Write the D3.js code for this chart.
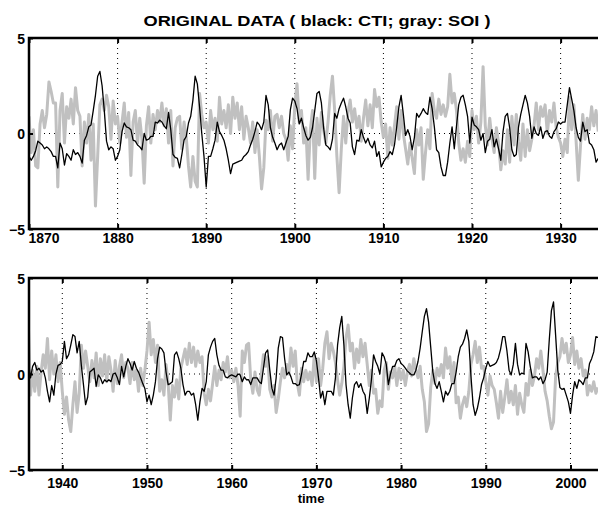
<!DOCTYPE html>
<html>
<head>
<meta charset="utf-8">
<script src="https://cdn.jsdelivr.net/npm/d3@7"></script>
<style>
  body { margin: 0; background: #fff; }
  text { font-family: "Liberation Sans", Arial, Helvetica, sans-serif; font-weight: bold; fill: #000; }
</style>
</head>
<body>
<div id="chart"></div>
<script>
// quarterly samples (step 0.25 yr)
var step = 0.25;

// top panel, starts 1870.0
var topStart = 1870;
var ctiTop = [
  -1.2,-1.4,-1.2,-0.9, -0.4,-0.5,-0.6,-0.8, -0.7,-0.8,-0.95,-1.2, -1.2,-1.8,-0.5,-0.8, -1.65,-1.05,-1.2,-1.4,
  -0.85,-1.1,-1.0,-1.2, -1.55,-0.35,-0.1,0.35, 0.45,1.2,2.0,3.0, 3.25,2.5,1.2,-0.4, -0.85,-0.7,-0.8,-1.4,
  -1.2,-0.85,0.1,0.55, 0.35,0.3,0.2,-0.35, -0.4,-0.6,-0.7,-0.85, 0.0,-0.35,-0.3,-0.15, -0.15,0.6,0.55,0.7,
  0.6,0.4,0.25,1.1, 0.2,-1.1,-1.25,-1.3, -1.8,-1.1,-0.35,-0.15, 0.55,0.9,1.75,3.0, 2.6,1.4,0.0,-1.2,
  -2.8,-1.2,-1.2,-0.8, -0.35,0.6,0.1,-0.1, -0.35,-0.8,-1.4,-2.1, -1.6,-1.55,-1.5,-1.45, -1.4,-1.2,-1.1,-0.95,
  -0.6,-0.3,0.1,0.6, 0.45,0.2,0.6,2.0, 1.5,0.3,-0.2,-0.5, -0.85,-0.6,-0.5,-0.85, -0.5,-0.15,1.25,1.85,
  1.7,1.3,0.5,0.8, 0.3,-0.1,-0.35,-0.2, 0.3,1.2,2.1,2.2, 1.6,0.3,-0.6,-0.7, -0.85,-0.3,1.05,0.8,
  1.3,1.6,1.85,1.4, 0.8,0.55,-0.7,-1.1, -0.35,-0.4,0.2,-0.2, -0.5,-0.25,-0.6,-0.75, -0.4,-1.2,-0.95,-1.75,
  -1.5,-1.3,-1.2,-0.95, -1.1,-0.6,0.35,1.4, 2.0,1.0,-0.1,0.2, -0.15,-0.85,-0.2,1.05, 0.85,1.05,1.3,1.1,
  1.0,1.9,1.3,0.35, -0.85,-1.0,-1.75,-2.2, -2.2,-1.5,-0.5,0.35, -0.8,0.4,1.5,1.9, 2.0,1.5,0.9,-0.5,
  0.85,0.45,0.35,0.2, -0.35,0.0,-1.0,-0.4, -0.3,0.2,-0.7,-0.3, -0.8,-1.4,0.1,0.9, 1.05,0.3,-0.85,-1.2,
  -1.1,0.35,1.0,1.5, 2.0,1.6,0.9,-0.25, 0.35,0.0,-0.1,0.35, -0.25,0.1,0.15,-0.15, -0.25,0.1,0.25,0.6,
  0.5,0.6,0.6,1.5, 2.4,1.8,1.2,0.3, -0.2,-0.4,0.6,0.1, 0.2,-0.5,-0.6,-0.85, -1.5,-1.3
];
var soiTop = [
  0.9,-1.0,0.2,-1.7, -1.8,0.5,1.2,0.3, 1.0,2.7,2.2,1.6, 1.6,-2.8,1.2,2.1, -0.5,1.4,0.8,1.8,
  0.5,2.4,1.2,0.9, -1.7,0.6,-0.5,1.0, -1.4,0.5,-3.8,-1.2, 1.5,1.8,1.2,2.0, 1.4,-0.3,1.7,0.5,
  0.9,-0.5,0.6,1.6, -0.2,1.1,-2.2,0.6, 1.2,-0.5,0.8,-0.3, -2.6,0.4,1.4,-0.5, 1.0,0.2,1.2,0.6,
  1.6,0.4,1.3,-0.5, 1.2,-1.7,0.3,0.8, 0.9,-0.8,0.6,-0.2, -1.7,-2.8,-1.2,-2.5, -2.8,2.1,1.0,0.3,
  0.6,-0.5,1.2,0.2, 0.8,-0.4,1.9,0.5, 1.2,0.3,1.5,0.0, 1.9,0.8,1.6,0.2, 1.4,-0.3,0.9,0.3,
  -0.5,0.6,-1.0,0.2, -1.2,-2.9,-1.8,0.7, 0.2,1.2,-0.4,0.9, 1.0,0.3,0.9,0.0, -0.3,-1.4,0.4,-0.8,
  1.5,2.6,0.6,1.2, -0.5,0.3,-2.4,0.2, 1.2,-2.35,0.8,-0.6, 1.1,0.2,-0.5,0.6, 2.0,3.0,1.2,-1.2,
  -3.1,-0.8,0.9,-0.5, 1.1,1.75,0.6,1.3, 0.3,0.9,-0.4,0.8, 1.75,0.4,1.5,0.3, 2.3,1.4,1.9,0.6,
  -0.2,0.5,-1.3,0.3, -0.6,0.4,1.4,-0.3, 1.2,0.0,-0.8,-1.6, -0.5,-1.3,-2.1,0.2, -0.6,0.3,-2.4,-1.0,
  0.2,-0.8,2.1,1.2, 0.8,1.8,1.0,1.5, 0.9,1.4,3.1,1.6, 2.1,1.2,-0.5,-1.4, -0.8,-1.5,-0.4,-1.2,
  1.2,0.2,0.9,-0.5, 0.6,3.5,0.4,-0.6, 0.8,-0.3,-1.0,0.3, -0.5,-1.9,-0.9,-1.6, 0.2,-1.5,0.9,-0.6,
  1.0,-0.4,-1.4,0.5, -1.2,0.2,-0.9,-0.3, 0.4,1.6,0.2,1.4, 0.9,1.5,0.0,1.2, 0.6,1.6,0.3,-0.2,
  -0.5,-1.2,-0.3,-1.0, 1.9,0.2,1.5,-0.4, -2.45,-0.6,1.0,-0.3, 0.8,0.2,1.4,0.4, 1.2,0.1
];

// bottom panel, starts 1936.0
var bottomStart = 1936;
var ctiBottom = [
  0.65,-0.2,0.4,0.6, 0.2,0.3,0.1,0.2, -0.2,-0.9,-1.45,-0.6, -1.1,0.0,0.45,0.5,
  0.65,1.7,0.8,1.0, 1.5,2.05,1.95,1.1, 1.7,0.45,-0.55,-1.6, -1.2,0.1,0.2,0.3, -0.65,-0.05,-0.2,-0.5,
  -0.3,-0.4,-0.3,-0.4, 0.0,0.05,-0.2,-0.55, 0.4,-0.15,0.4,0.8, 0.55,0.2,0.65,0.3, 0.1,-0.2,-0.5,-0.75,
  -1.45,-1.1,-1.6,-1.1, -0.4,0.8,1.4,1.3, 1.1,0.1,-0.55,-0.5, -0.4,1.0,1.15,0.8, 0.3,-0.55,-1.1,-0.9,
  -0.9,-1.1,-1.0,-1.6, -2.4,-1.45,-0.75,-0.9, -0.4,1.0,1.4,1.7, 1.85,1.0,0.45,0.2, 0.2,-0.15,-0.2,-0.1,
  -0.05,-0.1,-0.15,0.0, -0.05,-0.4,-0.15,-0.3, -0.3,-0.55,-0.2,-0.2, -0.2,-0.4,-0.5,0.3, 1.1,1.25,0.2,-0.75,
  -1.1,-0.2,1.35,1.95, 1.9,0.8,-0.05,0.1, -0.15,-0.5,-0.5,-0.6, -0.55,0.0,0.65,0.65, 1.1,0.9,0.9,1.15,
  0.7,-0.2,-1.25,-0.9, -1.6,-0.9,-0.9,-0.9, -1.1,-0.2,1.5,2.4, 3.0,1.5,-0.55,-1.6, -2.3,-1.25,-0.55,-0.4,
  -0.7,-0.5,-0.9,-1.1, -2.05,-1.25,-0.3,1.0, 0.65,0.4,0.0,1.1, 0.9,0.5,-0.55,0.0, 0.4,0.4,0.7,0.8,
  0.55,0.45,0.3,0.15, 0.05,-0.05,-0.05,0.2, 0.65,1.35,2.2,3.0, 3.4,2.7,1.4,0.1, -0.5,-0.75,-0.4,-0.9,
  -1.45,-0.9,-1.1,-0.9, -0.5,-0.5,0.1,0.9, 1.4,1.55,1.85,2.3, 1.7,-0.1,-1.6,-2.15, -1.8,-1.25,-0.55,-0.2,
  0.3,0.65,0.4,0.45, 0.5,0.6,0.85,1.3, 1.95,1.95,1.2,0.2, -0.05,0.5,1.6,0.5, -0.05,0.05,0.0,1.6,
  1.15,0.4,-0.2,-0.15, -0.15,-0.3,-0.15,-0.5, -0.3,0.1,1.8,3.3, 3.75,2.0,0.2,-0.7, -0.8,-0.75,-1.1,-1.45,
  -2.05,-1.1,-0.4,-0.75, -0.3,-0.4,-0.55,-0.2, -0.2,0.55,0.8,1.15, 1.95,1.9
];
var soiBottom = [
  2.45,-1.1,0.2,-0.9, 0.4,-1.1,0.1,1.0, 0.3,1.85,-0.3,1.2, 0.0,1.0,-0.4,0.6,
  -0.9,-2.1,-1.2,-2.4, -3.0,-1.6,-0.4,-2.0, -1.0,1.5,0.3,1.2, 0.4,-0.4,0.7,-0.2, 1.1,-0.6,0.8,-0.1,
  1.0,-0.4,0.9,0.2, -0.9,0.7,-0.5,0.4, 1.0,-0.2,0.6,0.3, -0.5,0.6,-0.3,0.2, -0.9,0.3,-0.6,0.2,
  1.2,2.7,1.0,1.8, 0.6,1.5,-0.9,-0.3, -1.1,0.5,-0.5,-2.4, -0.6,-1.2,-0.3,-1.3, 0.3,0.8,1.3,0.5,
  1.6,0.6,1.4,0.4, 1.2,0.6,0.9,-1.0, -1.6,-0.8,-1.4,-0.5, 0.4,-0.6,0.2,-0.3, 0.6,0.1,0.9,-0.2,
  0.2,-0.4,0.3,-0.6, -2.2,1.2,0.6,1.5, 1.6,-0.3,-1.0,0.1, -0.8,-1.1,0.0,1.0, 0.4,0.9,-0.8,-1.2,
  -0.6,-2.0,-1.3,-0.4, 0.3,-0.2,0.5,0.0, 1.35,0.4,1.2,-0.5, -1.1,0.3,-0.4,0.2, -0.3,0.1,-0.6,1.0,
  -0.4,0.8,-0.6,0.3, 1.6,2.2,0.8,1.6, 1.2,0.6,-0.3,-1.1, -0.5,0.4,1.9,2.55, 1.2,1.6,0.3,1.3,
  0.6,1.8,0.9,1.6, 0.5,-0.6,0.2,-1.0, -0.8,-2.05,-1.4,-1.7, 0.2,0.6,-0.8,0.1, -0.2,0.4,-0.6,0.3,
  -0.3,0.2,-0.6,0.1, 0.5,-0.1,0.8,0.2, -0.2,0.4,-0.8,-1.45, -3.0,-2.6,-0.7,0.2, -0.5,0.3,-0.1,0.5,
  -0.2,1.35,0.3,0.9, -0.4,0.6,-1.5,-1.2, -2.3,-1.6,-1.2,-1.7, -0.9,0.5,1.0,1.7, 0.6,1.4,0.3,0.4,
  -0.4,-1.1,-0.1,-0.6, -0.8,-1.5,-2.3,-0.9, -2.0,-1.2,-0.3,-1.5, -0.9,-1.6,-0.6,-2.1, -1.0,-1.6,-2.0,-0.5,
  -1.1,0.2,-0.6,-0.1, 0.8,0.3,1.2,0.2, -0.9,-1.4,-2.2,-2.85, -2.5,-0.1,0.6,0.9, 1.85,1.1,1.6,0.6,
  1.0,1.9,0.5,1.2, 0.3,0.8,-0.1,0.2, -1.1,-0.6,-0.9,-0.4, -1.0,-0.7
];

var topTicks = [1870, 1880, 1890, 1900, 1910, 1920, 1930];
var bottomTicks = [1940, 1950, 1960, 1970, 1980, 1990, 2000];
var yTicks = [-5, 0, 5];

var svgWidth = 598, svgHeight = 505;

var svg = d3.select("#chart").append("svg")
  .attr("width", svgWidth)
  .attr("height", svgHeight);

function toPoints(start, values) {
  return values.map(function(v, i) { return { t: start + i * step, v: v }; });
}

function drawPanel(p, idx) {
  var x = d3.scaleLinear().domain(p.xDomain).range([29, 598]);
  var y = d3.scaleLinear().domain([-5, 5]).range([p.bottom, p.top]);

  var g = svg.append("g");

  g.append("clipPath").attr("id", "clip" + idx)
    .append("rect")
    .attr("x", 29).attr("y", p.top)
    .attr("width", 598 - 29).attr("height", p.bottom - p.top);

  // dotted grid
  g.selectAll(".vgrid").data(p.ticks).enter().append("line")
    .attr("x1", d => x(d)).attr("x2", d => x(d))
    .attr("y1", p.top).attr("y2", p.bottom)
    .attr("stroke", "#000").attr("stroke-width", 1)
    .attr("stroke-dasharray", "1,4");
  g.append("line")
    .attr("x1", 29).attr("x2", 598)
    .attr("y1", y(0)).attr("y2", y(0))
    .attr("stroke", "#000").attr("stroke-width", 1)
    .attr("stroke-dasharray", "1,4");

  var line = d3.line().x(d => x(d.t)).y(d => y(d.v));

  var plot = g.append("g").attr("clip-path", "url(#clip" + idx + ")");
  plot.append("path")
    .datum(toPoints(p.start, p.soi))
    .attr("d", line)
    .attr("fill", "none")
    .attr("stroke", "#c0c0c0")
    .attr("stroke-width", 3)
    .attr("stroke-linejoin", "round");
  plot.append("path")
    .datum(toPoints(p.start, p.cti))
    .attr("d", line)
    .attr("fill", "none")
    .attr("stroke", "#000")
    .attr("stroke-width", 1.3)
    .attr("stroke-linejoin", "round");

  // axes
  var bottomAxis = d3.axisBottom(x).tickValues(p.ticks).tickSize(-5).tickFormat(d3.format("d"));
  var topAxis = d3.axisTop(x).tickValues(p.ticks).tickSize(-5).tickFormat("");
  var leftAxis = d3.axisLeft(y).tickValues(yTicks).tickSize(-4)
    .tickFormat(d => d < 0 ? "\u2212" + Math.abs(d) : d);

  var xb = g.append("g").attr("transform", `translate(0, ${p.bottom})`).call(bottomAxis);
  var xt = g.append("g").attr("transform", `translate(0, ${p.top})`).call(topAxis);
  var yl = g.append("g").attr("transform", "translate(29, 0)").call(leftAxis);

  [xb, xt, yl].forEach(function(a) {
    a.select(".domain").remove();
    a.selectAll(".tick line").attr("stroke", "#000").attr("stroke-width", 2);
  });
  xb.selectAll("text")
    .attr("y", p.labelGap).attr("dy", "0.71em")
    .style("font-size", "14px").attr("fill", "#000");
  // the first label of the top panel sits to the right of its tick
  if (p.shiftFirst) {
    xb.selectAll("text").filter(d => d === p.ticks[0])
      .attr("text-anchor", "start").attr("x", -1);
  }
  yl.selectAll("text")
    .attr("x", -4).attr("dy", "0.36em")
    .style("font-size", "14px").attr("fill", "#000");

  // box (left, top, bottom; right side runs off the page)
  g.append("path")
    .attr("d", `M598,${p.top}H29V${p.bottom}H598`)
    .attr("fill", "none")
    .attr("stroke", "#000")
    .attr("stroke-width", 2.5);
}

var panels = [
  { start: topStart, cti: ctiTop, soi: soiTop, xDomain: [1870, 1934.22],
    top: 38, bottom: 229, ticks: topTicks, labelGap: 4, shiftFirst: true },
  { start: bottomStart, cti: ctiBottom, soi: soiBottom, xDomain: [1936.07, 2003.25],
    top: 278, bottom: 470, ticks: bottomTicks, labelGap: 8, shiftFirst: false }
];
panels.forEach(drawPanel);

// title and x label
svg.append("text")
  .attr("x", 317).attr("y", 26)
  .attr("text-anchor", "middle")
  .attr("textLength", 347).attr("lengthAdjust", "spacingAndGlyphs")
  .style("font-size", "15px")
  .text("ORIGINAL DATA ( black: CTI; gray: SOI )");

svg.append("text")
  .attr("x", 311).attr("y", 503)
  .attr("text-anchor", "middle")
  .style("font-size", "13px")
  .text("time");
</script>
</body>
</html>
